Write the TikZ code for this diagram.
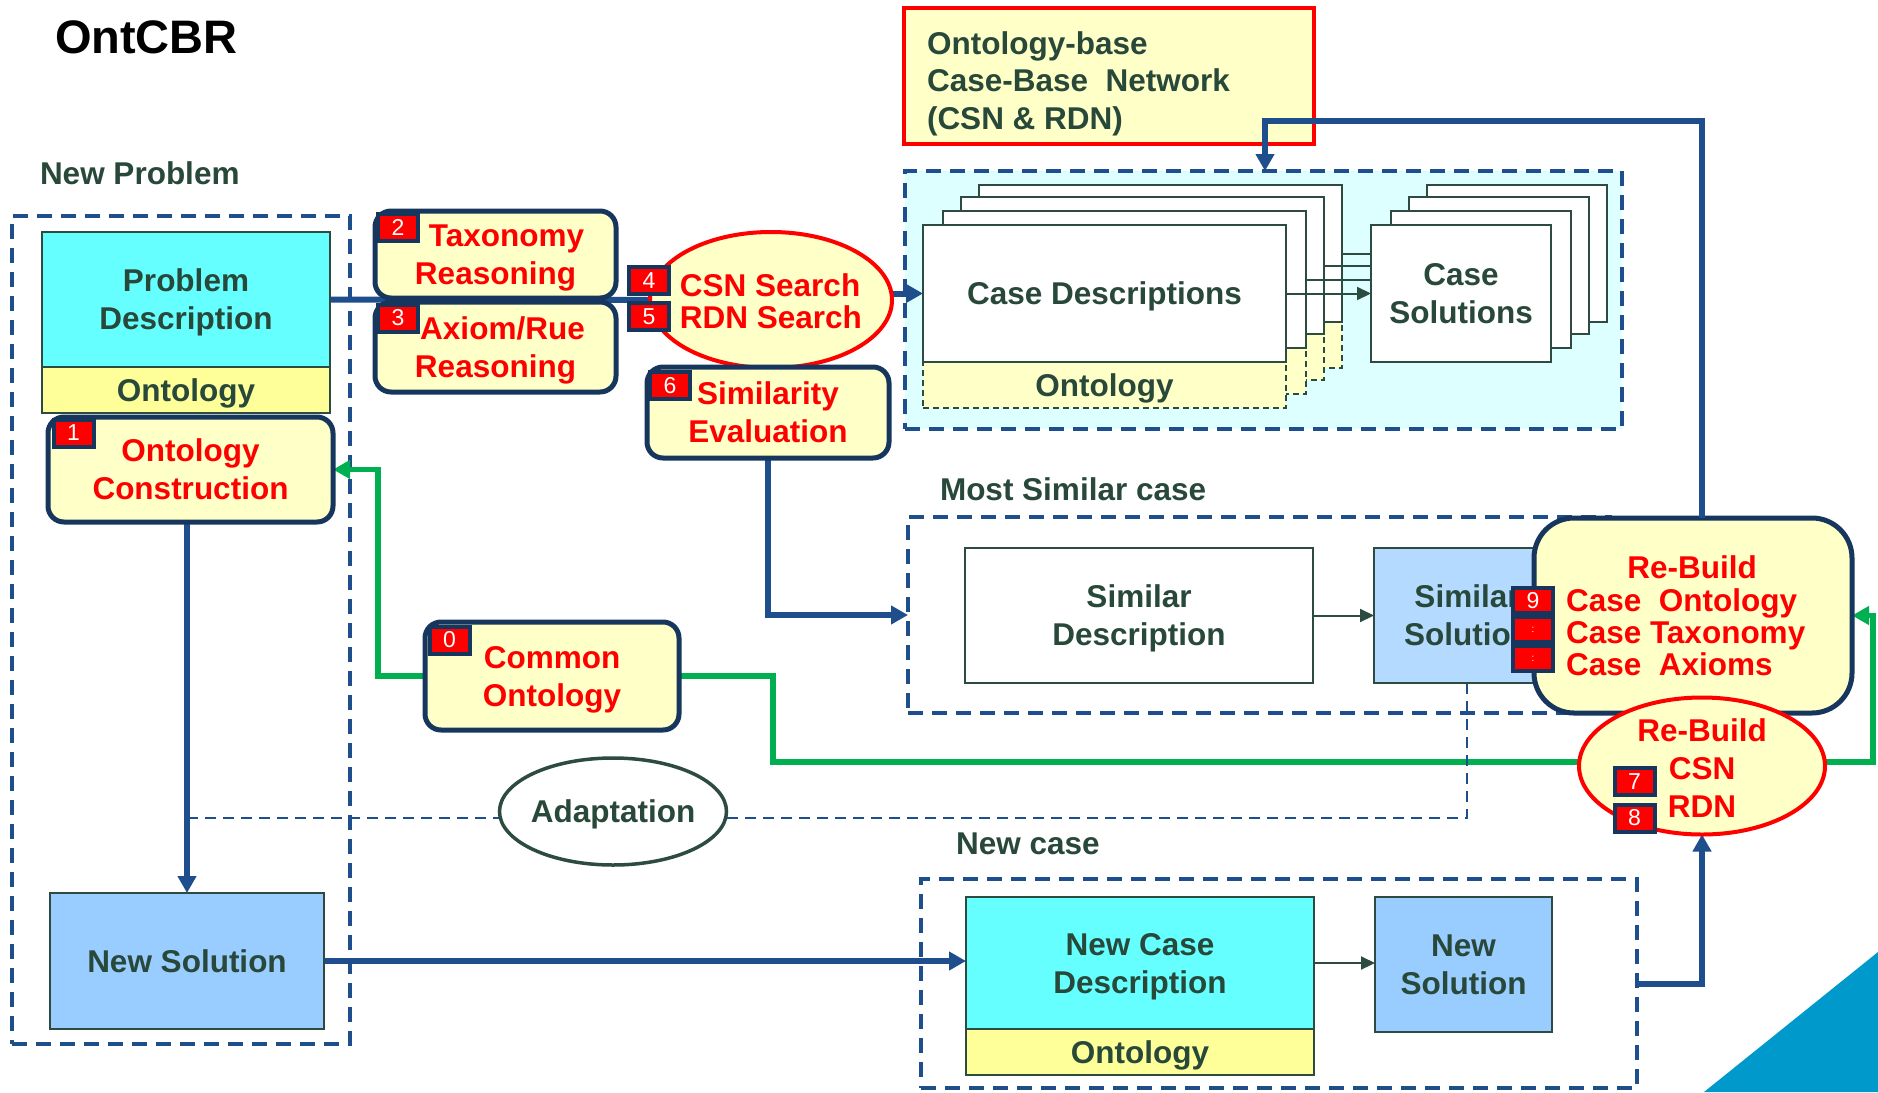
\documentclass[tikz,border=0pt]{standalone}
\usepackage{fontspec}
\setmainfont{Liberation Sans}
\usetikzlibrary{arrows.meta,shapes.geometric,calc}
\pgfdeclarelayer{bg}
\pgfdeclarelayer{conn}
\pgfsetlayers{bg,conn,main}

\definecolor{cnavy}{RGB}{23,54,93}
\definecolor{cblue}{RGB}{31,78,140}
\definecolor{dkline}{RGB}{45,75,65}
\definecolor{dktext}{RGB}{40,72,58}
\definecolor{redtxt}{RGB}{255,0,0}
\definecolor{ltyel}{RGB}{255,255,200}
\definecolor{ontyel}{RGB}{255,255,153}
\definecolor{cyanbox}{RGB}{102,255,255}
\definecolor{ltblue}{RGB}{153,204,255}
\definecolor{simblue}{RGB}{180,218,255}
\definecolor{cbfill}{RGB}{221,255,255}
\definecolor{gline}{RGB}{0,176,80}
\definecolor{cornertri}{RGB}{0,153,204}

\newcommand\bigtxt{\fontsize{31.5}{38}\selectfont\bfseries}
\newcommand\tighttxt{\fontsize{31.5}{32}\selectfont\bfseries}

\begin{document}
\begin{tikzpicture}[x=1pt,y=-1pt,
  every node/.style={inner sep=0pt, outer sep=0pt},
  sz/.style 2 args={minimum width=#1pt, minimum height=#2pt},
  pbox/.style={draw=dkline, line width=2pt, align=center, font=\bigtxt, text=dktext, text depth=-5pt},
  ontdash/.style={draw=dkline, line width=1.5pt, dash pattern=on 6pt off 4pt, fill=ltyel, font=\bigtxt, text=dktext, text depth=-3pt},
  redbox/.style={draw=cnavy, line width=5pt, rounded corners=16pt, fill=ltyel, align=center, font=\bigtxt, text=redtxt, text depth=-5pt},
  badge/.style={fill=red, draw=cnavy, line width=4pt, minimum width=40pt, minimum height=27pt, text=white, font=\fontsize{23}{23}\selectfont},
  cont/.style={draw=cblue, line width=3.5pt, dash pattern=on 15pt off 9pt},
  oval/.style={ellipse, fill=ltyel, draw=red, line width=4pt},
  lbl/.style={font=\bigtxt, text=dktext, anchor=west},
  flow/.style={draw=cblue, line width=6pt},
  flowarr/.style={flow, -{Triangle[length=17pt,width=18pt]}},
  gflowarr/.style={draw=gline, line width=5.5pt, -{Triangle[length=17pt,width=18pt]}},
  fine/.style={draw=dkline, line width=2pt},
  finearr/.style={fine, -{Triangle[length=14pt,width=13pt]}},
  adash/.style={draw=cblue, line width=2.5pt, dash pattern=on 11pt off 7pt}
]
\useasboundingbox (0,0) rectangle (1878,1092);

% page ground, dashed group frames and corner decoration
\begin{pgfonlayer}{bg}
  \fill[white] (0,0) rectangle (1878,1092);
  \node[cont, sz={338}{828}] (np) at (181,630) {};
  \node[cont, fill=cbfill, sz={717}{258}] (cb) at (1263.5,300) {};
  \node[cont, sz={702}{196}] (ms) at (1259,615) {};
  \node[cont, sz={716}{209}] (nc) at (1279,983.5) {};
  \fill[cornertri] (1704,1092) -- (1878,952) -- (1878,1092) -- cycle;
\end{pgfonlayer}

% headings
\node[anchor=west, font=\fontsize{47}{47}\selectfont\bfseries] (title) at (55,37) {OntCBR};
\node[lbl] (nplbl) at (40,173) {New Problem};
\node[lbl] (mslbl) at (940,489) {Most Similar case};
\node[lbl] (nclbl) at (956,844) {New case};

% new problem
\node[pbox, fill=cyanbox, sz={288}{135}] (pd) at (186,299.5) {Problem\\Description};
\node[pbox, fill=ontyel, sz={288}{46}, text depth=-3pt] (pdont) at (186,390) {Ontology};
\node[redbox, sz={285}{105}] (oc) at (190.5,469.5) {Ontology\\Construction};
\node[badge] (b1) at (73.5,433) {1};

% reasoning steps
\node[redbox, sz={241}{87}] (tax) at (495.5,254.5) {\hspace*{22pt}Taxonomy\\Reasoning};
\node[badge] (b2) at (398,227) {2};
\node[redbox, sz={241}{90}] (axi) at (495.5,347) {\hspace*{14pt}Axiom/Rue\\Reasoning};
\node[badge] (b3) at (398,318) {3};

\node[oval, sz={242}{136}] (csn) at (771,300) {};
\node[font=\tighttxt, text=redtxt, align=left] (csntxt) at (771,301) {CSN Search\\RDN Search};
\node[badge] (b4) at (649,280.5) {4};
\node[badge] (b5) at (649,316.5) {5};

\node[redbox, sz={242}{91}] (sim) at (768,412.5) {Similarity\\Evaluation};
\node[badge] (b6) at (670,385.5) {6};

% case base: stacked descriptions and solutions
\foreach \k/\dx/\dy in {3/56/40,2/38/28,1/20/14}{
  \node[ontdash, sz={363}{46}] (cdbo\k) at (1104.5+\dx,385-\dy) {};
  \node[pbox, fill=white, sz={363}{137}] (cdb\k) at (1104.5+\dx,293.5-\dy) {};
}
\node[ontdash, sz={363}{46}] (cdont) at (1104.5,385) {Ontology};
\node[pbox, fill=white, sz={363}{137}] (cd) at (1104.5,293.5) {Case Descriptions};
\foreach \k/\dx/\dy in {3/56/40,2/38/28,1/20/14}{
  \node[pbox, fill=white, sz={180}{137}] (csb\k) at (1461+\dx,293.5-\dy) {};
}
\node[pbox, fill=white, sz={180}{137}] (cs) at (1461,293.5) {Case\\Solutions};
\draw[finearr] (cd.east) -- (cs.west);
\foreach \k in {1,2,3}{
  \draw[fine] (cdb\k.east) -- (cdb\k.east -| cs.west);
}

% network box with its left-aligned caption
\node[draw=red, line width=4pt, fill=ltyel, sz={410}{136}] (obn) at (1109,76) {};
\node[anchor=west, align=left, font=\fontsize{31.5}{37.5}\selectfont\bfseries, text=dktext,
      text depth=0pt] (obntxt) at (927,80.5)
      {Ontology-base\\Case-Base\ \ Network\\(CSN \& RDN)};

% most similar case
\node[pbox, fill=white, sz={348}{135}] (sd) at (1139,615.5) {Similar\\Description};
\node[pbox, fill=simblue, sz={186}{135}] (ss) at (1467,615.5) {Similar\\Solution};
\draw[finearr] (sd.east) -- (ss.west);

% rebuild steps
\node[redbox, rounded corners=40pt, sz={318}{195}] (rb) at (1693,615.5) {};
\node[font=\bigtxt, text=redtxt] (rbt1) at (1692,567) {Re-Build};
\node[font=\tighttxt, text=redtxt, anchor=west, align=left] (rbt2) at (1566,632)
      {Case\ \ Ontology\\Case Taxonomy\\Case\ \ Axioms};
\node[badge, minimum height=25pt] (b9) at (1533,600.5) {9};
\node[badge, minimum height=25pt] (b10) at (1533,629.5) {\fontsize{10}{10}\selectfont :};
\node[badge, minimum height=25pt] (b11) at (1533,658.5) {\fontsize{10}{10}\selectfont :};

\node[oval, sz={246}{137}] (rbe) at (1702,766) {};
\node[font=\bigtxt, text=redtxt, align=center] (rbet) at (1702,768.5) {Re-Build\\CSN\\RDN};
\node[badge] (b7) at (1634.5,781.5) {7};
\node[badge] (b8) at (1634.5,818) {8};

% common ontology, adaptation, solutions
\node[redbox, sz={254}{108}] (co) at (552,676) {Common\\Ontology};
\node[badge] (b0) at (449.5,640) {0};

\node[pbox, fill=ltblue, sz={274}{136}] (ns) at (187,961) {New Solution};

\node[ellipse, draw=dkline, line width=3.5pt, fill=white, sz={227}{107}] (adapt) at (613,811.5) {};
\node[font=\bigtxt, text=dktext, text depth=0pt] (adaptt) at (613,811.5) {Adaptation};

\node[pbox, fill=cyanbox, sz={348}{132}] (ncd) at (1140,963) {New Case\\Description};
\node[pbox, fill=ontyel, sz={348}{46}, text depth=-3pt] (ncdont) at (1140,1052) {Ontology};
\node[pbox, fill=ltblue, sz={177}{135}] (ns2) at (1463.5,964.5) {New\\Solution};
\draw[finearr] (ncd.east) -- (ncd.east -| ns2.west);

% connectors running beneath the boxes
\begin{pgfonlayer}{conn}
  \draw[flow] (pd.east) -- (csn.west);
  \draw[flowarr] (cd.west -| csn.east) -- (cd.west);
  \draw[flowarr] (sim.south) |- (ms.west);
  \draw[flowarr] (ns.north |- oc.south) -- (ns.north);
  \draw[flowarr] (ns.east) -- (ns.east -| ncd.west);
  \draw[flowarr] (nc.east) -| (rbe.south);
  \coordinate (gx) at (378,0);
  \draw[gflowarr] (co.west) -| (gx |- oc.east) -- (oc.east);
  \coordinate (g1) at (773,762);
  \coordinate (g2) at (1873,762);
  \draw[gflowarr] (co.east) -| (g1) -- (g2) |- (rb.east);
  \coordinate (adl) at (187,818);
  \draw[adash] (ss.south) |- (adl);
\end{pgfonlayer}

% feedback into the case base, over the network box
\coordinate (fb) at (1265,121);
\draw[flowarr] (rbe.north |- rb.north) |- (fb) -- (fb |- cb.north);

\end{tikzpicture}
\end{document}
